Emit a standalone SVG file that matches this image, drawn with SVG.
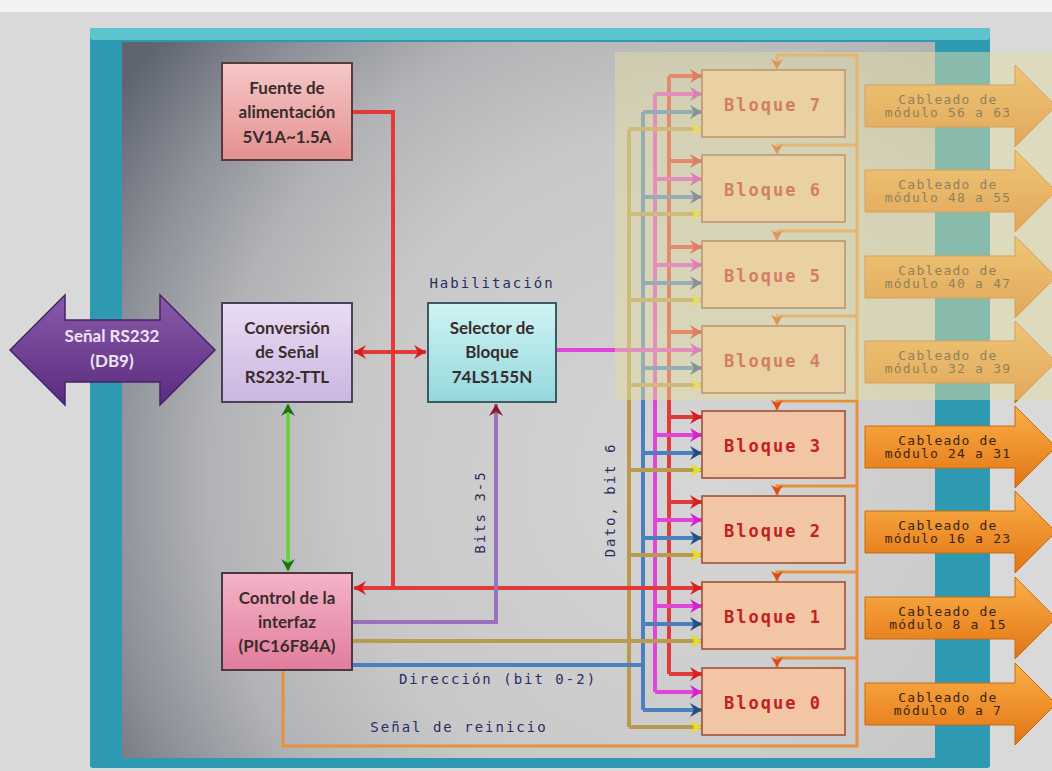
<svg xmlns="http://www.w3.org/2000/svg" width="1052" height="771" viewBox="0 0 1052 771">
<style>
.node{font-family:Lato,"Open Sans","DejaVu Sans",sans-serif;font-weight:bold;font-size:17px;fill:#3a2c2c;text-anchor:middle}
.mono{font-family:"DejaVu Sans Mono","Liberation Mono",monospace;font-size:14px;letter-spacing:2px;fill:#2c2c64;text-anchor:middle}
.blk{fill:#f2c6a4;stroke:#9a4a30;stroke-width:1.5}
.blkt{font-family:"DejaVu Sans Mono","Liberation Mono",monospace;font-weight:bold;font-size:17px;letter-spacing:2px;fill:#c42020;text-anchor:middle}
.cab{fill:url(#gOr);stroke:#c86a10;stroke-width:1}
.cabt{font-family:"DejaVu Sans Mono","Liberation Mono",monospace;font-size:13px;letter-spacing:1.2px;fill:#3a2410;text-anchor:middle}
.ln{fill:none;stroke-width:4;stroke-linejoin:miter}
.r{stroke:#e23a3a}.m{stroke:#e044d8}.b{stroke:#4a80c0}.y{stroke:#b89a50}.o{stroke:#e8903a;stroke-width:3}.g{stroke:#72cc44}.p{stroke:#9a72bc}
</style>
<defs>
<linearGradient id="gOr" x1="0" y1="0" x2="0" y2="1"><stop offset="0" stop-color="#fbb048"/><stop offset="1" stop-color="#e27414"/></linearGradient>
<linearGradient id="gPu" x1="0" y1="0" x2="0" y2="1"><stop offset="0" stop-color="#8a5aaa"/><stop offset="1" stop-color="#5a2c7e"/></linearGradient>
<linearGradient id="gFu" x1="0" y1="0" x2="0" y2="1"><stop offset="0" stop-color="#f6c8c8"/><stop offset="1" stop-color="#e49090"/></linearGradient>
<linearGradient id="gCo" x1="0" y1="0" x2="0" y2="1"><stop offset="0" stop-color="#eadcf4"/><stop offset="1" stop-color="#cbb6e0"/></linearGradient>
<linearGradient id="gSe" x1="0" y1="0" x2="0" y2="1"><stop offset="0" stop-color="#cff4f4"/><stop offset="1" stop-color="#94d8dc"/></linearGradient>
<linearGradient id="gCt" x1="0" y1="0" x2="0" y2="1"><stop offset="0" stop-color="#f4b4c8"/><stop offset="1" stop-color="#e27c9c"/></linearGradient>
<radialGradient id="gPanel" gradientUnits="userSpaceOnUse" cx="700" cy="480" r="700"><stop offset="0" stop-color="#d6d6d6"/><stop offset="0.5" stop-color="#c8c8c8"/><stop offset="0.7" stop-color="#b2b3b6"/><stop offset="0.85" stop-color="#8c9098"/><stop offset="1" stop-color="#5e6470"/></radialGradient>
<marker id="aR" markerUnits="userSpaceOnUse" markerWidth="14" markerHeight="14" refX="12" refY="7" orient="auto-start-reverse"><path d="M0,0 L12,7 L0,14 L4,7 z" fill="#d81e1e"/></marker>
<marker id="aM" markerUnits="userSpaceOnUse" markerWidth="14" markerHeight="14" refX="12" refY="7" orient="auto"><path d="M0,0 L12,7 L0,14 L4,7 z" fill="#d424c8"/></marker>
<marker id="aB" markerUnits="userSpaceOnUse" markerWidth="14" markerHeight="14" refX="12" refY="7" orient="auto"><path d="M0,0 L12,7 L0,14 L4,7 z" fill="#2a4a80"/></marker>
<marker id="aY" markerUnits="userSpaceOnUse" markerWidth="14" markerHeight="14" refX="12" refY="7" orient="auto"><path d="M0,0 L12,7 L0,14 L4,7 z" fill="#e4e020"/></marker>
<marker id="aO" markerUnits="userSpaceOnUse" markerWidth="12" markerHeight="12" refX="10" refY="6" orient="auto"><path d="M0,0 L10,6 L0,12 L3,6 z" fill="#e04a14"/></marker>
<marker id="aG" markerUnits="userSpaceOnUse" markerWidth="14" markerHeight="14" refX="12" refY="7" orient="auto-start-reverse"><path d="M0,0 L12,7 L0,14 L4,7 z" fill="#1e6e1e"/></marker>
<marker id="aP" markerUnits="userSpaceOnUse" markerWidth="14" markerHeight="14" refX="12" refY="7" orient="auto"><path d="M0,0 L12,7 L0,14 L4,7 z" fill="#8a1a30"/></marker>
</defs>

<!-- background and frame -->
<rect x="0" y="0" width="1052" height="771" fill="#d9d9d9"/>
<rect x="0" y="0" width="1052" height="12" fill="#f2f2f2"/>
<rect x="90" y="28" width="900" height="740" rx="3" fill="#2e9ab2"/>
<rect x="90" y="28" width="900" height="12" rx="3" fill="#5cc4cc"/>
<rect x="122" y="42" width="813" height="716" fill="url(#gPanel)"/>

<!-- left purple signal arrow -->
<g id="rs232">
<path d="M10,350 L65,295 L65,320 L160,320 L160,295 L215,350 L160,405 L160,382 L65,382 L65,405 Z" fill="url(#gPu)" stroke="#4a2068" stroke-width="1.5"/>
<text class="node" x="112" y="342" style="fill:#ece4f4">Señal RS232</text>
<text class="node" x="112" y="367" style="fill:#ece4f4">(DB9)</text>
</g>

<!-- connectors -->
<g id="connectors">
<path class="ln y" d="M629,129 V727"/>
<path class="ln b" d="M643,112 V710"/>
<path class="ln m" d="M655,94 V692"/>
<path class="ln r" d="M669,76 V674"/>
<path class="ln r" d="M352,112 H393 V588 H669"/>
<path class="ln r" d="M393,588 H354" marker-end="url(#aR)"/>
<path class="ln r" d="M354,352 H426" marker-start="url(#aR)" marker-end="url(#aR)"/>
<path class="ln g" d="M288,404 V571" marker-start="url(#aG)" marker-end="url(#aG)"/>
<path class="ln m" d="M556,350 H655"/>
<path class="ln p" d="M352,622 H496 V404" marker-end="url(#aP)"/>
<path class="ln y" d="M352,641 H629"/>
<path class="ln b" d="M352,665 H643"/>
<path class="ln o" d="M283,670 V746 H857 V55 H777 V69" marker-end="url(#aO)"/>
<path class="ln o" d="M857,145 H777 V154" marker-end="url(#aO)"/>
<path class="ln o" d="M857,231 H777 V240" marker-end="url(#aO)"/>
<path class="ln o" d="M857,316 H777 V325" marker-end="url(#aO)"/>
<path class="ln o" d="M857,401 H777 V410" marker-end="url(#aO)"/>
<path class="ln o" d="M857,486 H777 V495" marker-end="url(#aO)"/>
<path class="ln o" d="M857,572 H777 V581" marker-end="url(#aO)"/>
<path class="ln o" d="M857,658 H777 V667" marker-end="url(#aO)"/>
<path class="ln r" d="M669,76 H702" marker-end="url(#aR)"/>
<path class="ln r" d="M669,161 H702" marker-end="url(#aR)"/>
<path class="ln r" d="M669,247 H702" marker-end="url(#aR)"/>
<path class="ln r" d="M669,332 H702" marker-end="url(#aR)"/>
<path class="ln r" d="M669,417 H702" marker-end="url(#aR)"/>
<path class="ln r" d="M669,502 H702" marker-end="url(#aR)"/>
<path class="ln r" d="M669,588 H702" marker-end="url(#aR)"/>
<path class="ln r" d="M669,674 H702" marker-end="url(#aR)"/>
<path class="ln m" d="M655,94 H702" marker-end="url(#aM)"/>
<path class="ln m" d="M655,179 H702" marker-end="url(#aM)"/>
<path class="ln m" d="M655,265 H702" marker-end="url(#aM)"/>
<path class="ln m" d="M655,350 H702" marker-end="url(#aM)"/>
<path class="ln m" d="M655,435 H702" marker-end="url(#aM)"/>
<path class="ln m" d="M655,520 H702" marker-end="url(#aM)"/>
<path class="ln m" d="M655,606 H702" marker-end="url(#aM)"/>
<path class="ln m" d="M655,692 H702" marker-end="url(#aM)"/>
<path class="ln b" d="M643,112 H702" marker-end="url(#aB)"/>
<path class="ln b" d="M643,197 H702" marker-end="url(#aB)"/>
<path class="ln b" d="M643,283 H702" marker-end="url(#aB)"/>
<path class="ln b" d="M643,368 H702" marker-end="url(#aB)"/>
<path class="ln b" d="M643,453 H702" marker-end="url(#aB)"/>
<path class="ln b" d="M643,538 H702" marker-end="url(#aB)"/>
<path class="ln b" d="M643,624 H702" marker-end="url(#aB)"/>
<path class="ln b" d="M643,710 H702" marker-end="url(#aB)"/>
<path class="ln y" d="M629,129 H702" marker-end="url(#aY)"/>
<path class="ln y" d="M629,214 H702" marker-end="url(#aY)"/>
<path class="ln y" d="M629,300 H702" marker-end="url(#aY)"/>
<path class="ln y" d="M629,385 H702" marker-end="url(#aY)"/>
<path class="ln y" d="M629,470 H702" marker-end="url(#aY)"/>
<path class="ln y" d="M629,555 H702" marker-end="url(#aY)"/>
<path class="ln y" d="M629,641 H702" marker-end="url(#aY)"/>
<path class="ln y" d="M629,727 H702" marker-end="url(#aY)"/>
</g>

<!-- labels -->
<text class="mono" x="492" y="288">Habilitación</text>
<text class="mono" transform="translate(485,512) rotate(-90)">Bits 3-5</text>
<text class="mono" transform="translate(615,500) rotate(-90)">Dato, bit 6</text>
<text class="mono" x="498" y="684">Dirección (bit 0-2)</text>
<text class="mono" x="459" y="732">Señal de reinicio</text>

<!-- left nodes -->
<g id="fuente">
<rect x="222" y="63" width="130" height="97" fill="url(#gFu)" stroke="#5a3a3a" stroke-width="2"/>
<text class="node" x="287" y="94">Fuente de</text>
<text class="node" x="287" y="118">alimentación</text>
<text class="node" x="287" y="143">5V1A~1.5A</text>
</g>
<g id="conversion">
<rect x="222" y="303" width="130" height="99" fill="url(#gCo)" stroke="#4a4058" stroke-width="2"/>
<text class="node" x="287" y="334">Conversión</text>
<text class="node" x="287" y="358">de Señal</text>
<text class="node" x="287" y="383">RS232-TTL</text>
</g>
<g id="selector">
<rect x="428" y="303" width="128" height="99" fill="url(#gSe)" stroke="#3a5a66" stroke-width="2"/>
<text class="node" x="492" y="334">Selector de</text>
<text class="node" x="492" y="358">Bloque</text>
<text class="node" x="492" y="383">74LS155N</text>
</g>
<g id="control">
<rect x="222" y="573" width="130" height="97" fill="url(#gCt)" stroke="#4a3a40" stroke-width="2"/>
<text class="node" x="287" y="604">Control de la</text>
<text class="node" x="287" y="628">interfaz</text>
<text class="node" x="287" y="652">(PIC16F84A)</text>
</g>

<!-- blocks -->
<g id="bloque7"><rect class="blk" x="702" y="70" width="143" height="67"/><text class="blkt" x="773" y="111">Bloque 7</text></g>
<g id="bloque6"><rect class="blk" x="702" y="155" width="143" height="67"/><text class="blkt" x="773" y="196">Bloque 6</text></g>
<g id="bloque5"><rect class="blk" x="702" y="241" width="143" height="67"/><text class="blkt" x="773" y="282">Bloque 5</text></g>
<g id="bloque4"><rect class="blk" x="702" y="326" width="143" height="67"/><text class="blkt" x="773" y="367">Bloque 4</text></g>
<g id="bloque3"><rect class="blk" x="702" y="411" width="143" height="67"/><text class="blkt" x="773" y="452">Bloque 3</text></g>
<g id="bloque2"><rect class="blk" x="702" y="496" width="143" height="67"/><text class="blkt" x="773" y="537">Bloque 2</text></g>
<g id="bloque1"><rect class="blk" x="702" y="582" width="143" height="67"/><text class="blkt" x="773" y="623">Bloque 1</text></g>
<g id="bloque0"><rect class="blk" x="702" y="668" width="143" height="67"/><text class="blkt" x="773" y="709">Bloque 0</text></g>

<!-- cabling arrows -->
<g id="cab7"><path class="cab" d="M865,85 H1015 V65 L1056,106 L1015,147 V127 H865 Z"/><text class="cabt" x="948" y="104">Cableado de</text><text class="cabt" x="948" y="117">módulo 56 a 63</text></g>
<g id="cab6"><path class="cab" d="M865,170 H1015 V150 L1056,191 L1015,232 V212 H865 Z"/><text class="cabt" x="948" y="189">Cableado de</text><text class="cabt" x="948" y="202">módulo 48 a 55</text></g>
<g id="cab5"><path class="cab" d="M865,256 H1015 V236 L1056,277 L1015,318 V298 H865 Z"/><text class="cabt" x="948" y="275">Cableado de</text><text class="cabt" x="948" y="288">módulo 40 a 47</text></g>
<g id="cab4"><path class="cab" d="M865,341 H1015 V321 L1056,362 L1015,403 V383 H865 Z"/><text class="cabt" x="948" y="360">Cableado de</text><text class="cabt" x="948" y="373">módulo 32 a 39</text></g>
<g id="cab3"><path class="cab" d="M865,426 H1015 V406 L1056,447 L1015,488 V468 H865 Z"/><text class="cabt" x="948" y="445">Cableado de</text><text class="cabt" x="948" y="458">módulo 24 a 31</text></g>
<g id="cab2"><path class="cab" d="M865,511 H1015 V491 L1056,532 L1015,573 V553 H865 Z"/><text class="cabt" x="948" y="530">Cableado de</text><text class="cabt" x="948" y="543">módulo 16 a 23</text></g>
<g id="cab1"><path class="cab" d="M865,597 H1015 V577 L1056,618 L1015,659 V639 H865 Z"/><text class="cabt" x="948" y="616">Cableado de</text><text class="cabt" x="948" y="629">módulo 8 a 15</text></g>
<g id="cab0"><path class="cab" d="M865,683 H1015 V663 L1056,704 L1015,745 V725 H865 Z"/><text class="cabt" x="948" y="702">Cableado de</text><text class="cabt" x="948" y="715">módulo 0 a 7</text></g>

<!-- translucent highlight over upper half of blocks -->
<rect x="615" y="52" width="437" height="348" fill="#e2dca4" opacity="0.5" pointer-events="none"/>
</svg>
